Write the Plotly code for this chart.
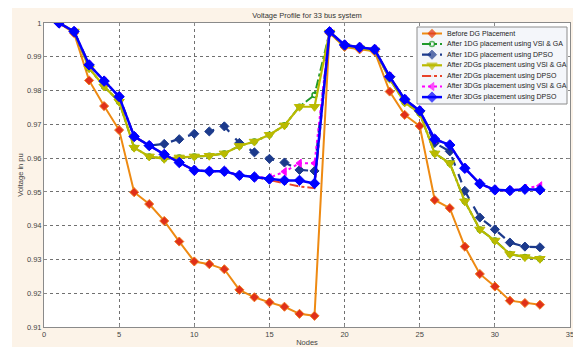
import plotly.graph_objects as go

nodes = list(range(1, 34))

before_dg = [1.0, 0.997, 0.983, 0.9754, 0.9683, 0.9499, 0.9464, 0.9414, 0.9353, 0.9294,
             0.9286, 0.9271, 0.9210, 0.9188, 0.9173, 0.9160, 0.9139, 0.9133, 0.9970, 0.9929,
             0.9922, 0.9916, 0.9797, 0.9728, 0.9695, 0.9476, 0.9452, 0.9338, 0.9257, 0.9220,
             0.9178, 0.9171, 0.9166]

dg1_vsi_ga = [1.0, 0.9975, 0.9866, 0.9812, 0.9767, 0.9631, 0.9605, 0.9598, 0.9602, 0.9605,
              0.9607, 0.9614, 0.9636, 0.9649, 0.9669, 0.9697, 0.9752, 0.9787, 0.9972, 0.9932,
              0.9925, 0.9919, 0.9835, 0.9765, 0.9733, 0.9614, 0.9585, 0.9472, 0.9389, 0.9356,
              0.9316, 0.9307, 0.9302]

dg1_dpso = [1.0, 0.9975, 0.9876, 0.9828, 0.9782, 0.9664, 0.9637, 0.9642, 0.9656, 0.9672,
            0.9679, 0.9694, 0.9645, 0.9617, 0.9598, 0.9587, 0.9565, 0.9562, 0.9974, 0.9935,
            0.9928, 0.9922, 0.9841, 0.9774, 0.9740, 0.9645, 0.9620, 0.9503, 0.9424, 0.9389,
            0.9350, 0.9338, 0.9336]

dg2_vsi_ga = [1.0, 0.9975, 0.9866, 0.9812, 0.9767, 0.9631, 0.9605, 0.9598, 0.9602, 0.9605,
              0.9607, 0.9614, 0.9636, 0.9649, 0.9669, 0.9697, 0.9752, 0.9752, 0.9972, 0.9932,
              0.9925, 0.9919, 0.9835, 0.9765, 0.9733, 0.9614, 0.9585, 0.9472, 0.9389, 0.9356,
              0.9316, 0.9307, 0.9302]

dg2_dpso = [1.0, 0.9975, 0.9876, 0.9828, 0.9782, 0.9664, 0.9637, 0.9611, 0.9587, 0.9564,
            0.9561, 0.9561, 0.9549, 0.9545, 0.9535, 0.9525, 0.9516, 0.9511, 0.9974, 0.9935,
            0.9928, 0.9922, 0.9841, 0.9774, 0.9740, 0.9656, 0.9639, 0.9570, 0.9524, 0.9506,
            0.9504, 0.9508, 0.9506]

dg3_vsi_ga = [1.0, 0.9975, 0.9876, 0.9828, 0.9782, 0.9664, 0.9637, 0.9611, 0.9587, 0.9564,
              0.9561, 0.9561, 0.9549, 0.9544, 0.9542, 0.9560, 0.9585, 0.9585, 0.9974, 0.9935,
              0.9928, 0.9922, 0.9841, 0.9774, 0.9740, 0.9656, 0.9639, 0.9570, 0.9524, 0.9506,
              0.9504, 0.9510, 0.9518]

dg3_dpso = [1.0, 0.9975, 0.9876, 0.9828, 0.9782, 0.9664, 0.9637, 0.9611, 0.9587, 0.9564,
            0.9561, 0.9561, 0.9549, 0.9544, 0.9538, 0.9534, 0.9534, 0.9525, 0.9974, 0.9935,
            0.9928, 0.9922, 0.9841, 0.9774, 0.9740, 0.9656, 0.9639, 0.9570, 0.9524, 0.9506,
            0.9504, 0.9508, 0.9506]

series_names = ["Before DG Placement",
                "After 1DG placement using VSI & GA",
                "After 1DG placement using DPSO",
                "After 2DGs placement using VSI & GA",
                "After 2DGs placement using DPSO",
                "After 3DGs placement using VSI & GA",
                "After 3DGs placement using DPSO"]
series_values = [before_dg, dg1_vsi_ga, dg1_dpso, dg2_vsi_ga, dg2_dpso, dg3_vsi_ga, dg3_dpso]

x_ticks = [0, 5, 10, 15, 20, 25, 30, 35]
y_ticks = [0.91, 0.92, 0.93, 0.94, 0.95, 0.96, 0.97, 0.98, 0.99, 1.0]
y_ticktext = ["0.91", "0.92", "0.93", "0.94", "0.95", "0.96", "0.97", "0.98", "0.99", "1"]

styles = [
    dict(line=dict(color="#EE8A12", width=2, dash="solid"),
         marker=dict(symbol="diamond", size=7, color="#E0301A", line=dict(color="#F07A20", width=1))),
    dict(line=dict(color="#1F9A2A", width=2, dash="dashdot"),
         marker=dict(symbol="circle-open", size=5, color="#1F9A2A", line=dict(width=1.5))),
    dict(line=dict(color="#1C3A8C", width=2.2, dash="dash"),
         marker=dict(symbol="diamond", size=7, color="#1C3A8C", line=dict(color="#1C3A8C", width=1))),
    dict(line=dict(color="#BABA00", width=2.2, dash="solid"),
         marker=dict(symbol="triangle-down", size=9, color="#BABA00", line=dict(color="#BABA00", width=1))),
    dict(line=dict(color="#E8432A", width=2, dash="dashdot"),
         marker=dict(symbol="circle", size=1, color="#E8432A", line=dict(width=0))),
    dict(line=dict(color="#FF00FF", width=2, dash="dot"),
         marker=dict(symbol="triangle-left", size=7, color="#FF00FF", line=dict(color="#FF00FF", width=1))),
    dict(line=dict(color="#0000FF", width=2.5, dash="solid"),
         marker=dict(symbol="diamond", size=8, color="#0000FF", line=dict(color="#0000FF", width=1))),
]

# The page body has an 8px default margin: layout positions below are
# given in window pixels and shifted by OFF into figure coordinates.
OFF = 8
W, H = 581, 347
PX0, PX1, PY0, PY1 = 44 - OFF, 570 - OFF, 23 - OFF, 327 - OFF   # plot area in figure px
ML, MR, MT, MB = PX0, W - PX1, PY0, H - PY1
PW, PH = PX1 - PX0, PY1 - PY0

fig = go.Figure()
for name, vals, st in zip(series_names, series_values, styles):
    fig.add_trace(go.Scatter(x=nodes, y=vals, name=name, mode="lines+markers",
                             line=st["line"], marker=st["marker"], showlegend=False,
                             xaxis="x", yaxis="y"))

# ---- compact MATLAB-like legend drawn in an overlay subplot ----
LX0, LX1, LY0, LY1 = 417 - OFF, 567 - OFF, 27 - OFF, 104 - OFF   # legend box, figure px
lw, lh = LX1 - LX0, LY1 - LY0
fig.add_trace(go.Scatter(x=[0, lw, lw, 0, 0], y=[0, 0, lh, lh, 0], mode="lines",
                         fill="toself", fillcolor="#F4F6FA",
                         line=dict(color="#8C8C8C", width=1), hoverinfo="skip",
                         showlegend=False, xaxis="x2", yaxis="y2"))
row0, rowgap = 6.5, 10.6
key0, key1, txt0 = 5, 25, 28
for i, (name, st) in enumerate(zip(series_names, styles)):
    yy = row0 + i * rowgap
    m = dict(st["marker"])
    fig.add_trace(go.Scatter(x=[key0, (key0 + key1) / 2, key1], y=[yy, yy, yy],
                             mode="lines+markers", line=st["line"],
                             marker=dict(m, size=[0, m["size"], 0]),
                             hoverinfo="skip", showlegend=False, xaxis="x2", yaxis="y2"))
    fig.add_annotation(x=txt0, y=yy, xref="x2", yref="y2", text=name, showarrow=False,
                       xanchor="left", yanchor="middle",
                       font=dict(family="Liberation Sans, Arial", size=7, color="#222"))

axis_font = dict(family="Liberation Sans, Arial", size=7.5, color="#444")

fig.update_layout(
    width=W, height=H,
    margin=dict(l=ML, r=MR, t=MT, b=MB),
    paper_bgcolor="#FCF3E8", plot_bgcolor="white",
    title=dict(text="Voltage Profile for 33 bus system", x=(PX0 + PW / 2) / W, xanchor="center",
               y=1 - (15 - OFF) / H, yanchor="middle", yref="container",
               font=dict(family="Liberation Sans, Arial", size=7.5, color="#333")),
    xaxis=dict(range=[0, 35], tickvals=x_ticks, showgrid=True, gridcolor="#707070",
               griddash="dot", gridwidth=1, zeroline=False, showline=True,
               linecolor="#8A8A8A", linewidth=1, mirror="allticks", ticks="inside",
               ticklen=3, tickcolor="#8A8A8A", tickfont=axis_font, automargin=False,
               title=dict(text="Nodes", font=axis_font, standoff=1)),
    yaxis=dict(range=[0.91, 1.0], tickvals=y_ticks, ticktext=y_ticktext, showgrid=True,
               gridcolor="#707070", griddash="dot", gridwidth=1, zeroline=False,
               showline=True, linecolor="#8A8A8A", linewidth=1, mirror="allticks",
               ticks="inside", ticklen=3, tickcolor="#8A8A8A", tickfont=axis_font,
               automargin=False,
               title=dict(text="Voltage in pu", font=axis_font, standoff=2)),
    xaxis2=dict(domain=[(LX0 - 1 - PX0) / PW, (LX1 + 1 - PX0) / PW], range=[-1, lw + 1],
                visible=False, anchor="y2", fixedrange=True),
    yaxis2=dict(domain=[(PY1 - (LY1 + 1)) / PH, (PY1 - (LY0 - 1)) / PH],
                range=[lh + 1, -1], visible=False, anchor="x2", fixedrange=True),
    shapes=[
        dict(type="rect", xref="paper", yref="paper", x0=-PX0 / PW, x1=(12 - OFF - PX0) / PW,
             y0=-MB / PH, y1=(H - PY0 + PY0) / PH, fillcolor="white", line=dict(width=0),
             layer="below"),
    ],
)

fig.write_html("out.html")
